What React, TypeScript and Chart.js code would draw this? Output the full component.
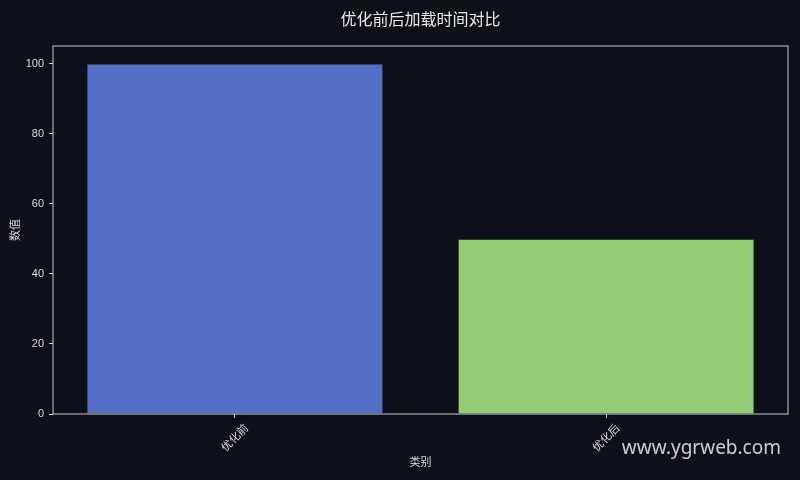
import { useEffect, useRef } from "react";
import { Chart, registerables } from "chart.js";

Chart.register(...registerables);

const categories = ["优化前", "优化后"];
const values = [100, 50];
const barColors = ["#5470c6", "#91cc75"];
const yTicks = [0, 20, 40, 60, 80, 100];

const BG = "#0d1017";
const TEXT = "#dcdcdc";
const SPINE = "#cccccc";
const FONT = "'Liberation Sans', 'Noto Sans CJK SC', sans-serif";

// frame, title and watermark
const decorPlugin = {
  id: "decor",
  beforeDraw(chart: Chart) {
    const { ctx, width, height } = chart;
    ctx.save();
    ctx.fillStyle = BG;
    ctx.fillRect(0, 0, width, height);
    ctx.restore();
  },
  afterDraw(chart: Chart) {
    const { ctx, chartArea } = chart;
    ctx.save();
    ctx.strokeStyle = SPINE;
    ctx.lineWidth = 1;
    ctx.strokeRect(chartArea.left, chartArea.top, chartArea.right - chartArea.left, chartArea.bottom - chartArea.top);

    ctx.fillStyle = "#e8e8e8";
    ctx.font = "16px 'Noto Sans CJK SC', sans-serif";
    ctx.textAlign = "center";
    ctx.textBaseline = "middle";
    ctx.fillText("优化前后加载时间对比", (chartArea.left + chartArea.right) / 2, 18.5);

    ctx.fillStyle = "rgba(225,225,225,0.9)";
    ctx.font = "19px 'Noto Sans', 'Open Sans', sans-serif";
    ctx.textAlign = "right";
    ctx.fillText("www.ygrweb.com", 781, 449);
    ctx.restore();
  },
};

export default function App() {
  const canvasRef = useRef<HTMLCanvasElement>(null);
  const chartRef = useRef<Chart | null>(null);

  useEffect(() => {
    document.body.style.margin = "0";
    if (!canvasRef.current) return;
    if (chartRef.current) chartRef.current.destroy();

    chartRef.current = new Chart(canvasRef.current, {
      type: "bar",
      data: {
        datasets: [
          {
            data: values.map((v, i) => ({ x: i, y: v })),
            backgroundColor: barColors,
            borderColor: "rgba(20,25,40,0.5)",
            borderWidth: 1,
            categoryPercentage: 1,
            barPercentage: 0.8,
          },
        ],
      },
      options: {
        animation: false,
        responsive: true,
        maintainAspectRatio: false,
        layout: { padding: { top: 46, right: 12, left: 0, bottom: 0 } },
        plugins: {
          legend: { display: false },
          title: { display: false },
          tooltip: { enabled: false },
        },
        scales: {
          x: {
            type: "linear",
            offset: false,
            min: -0.49,
            max: 1.49,
            afterBuildTicks: (s: any) => {
              s.ticks = categories.map((_, i) => ({ value: i }));
            },
            afterFit: (s: any) => {
              s.height = 66;
            },
            ticks: {
              callback: (v: any) => categories[v] ?? "",
              minRotation: 45,
              maxRotation: 45,
              labelOffset: 12,
              padding: 4,
              color: TEXT,
              font: { family: FONT, size: 11 },
            },
            grid: { display: true, offset: false, drawOnChartArea: false, drawTicks: true, tickLength: 4, color: SPINE },
            border: { display: false },
            title: {
              display: true,
              text: "类别",
              color: TEXT,
              font: { family: FONT, size: 11 },
              padding: { top: 0, bottom: 10 },
            },
          },
          y: {
            min: 0,
            max: 105,
            afterBuildTicks: (s: any) => {
              s.ticks = yTicks.map((v) => ({ value: v }));
            },
            afterFit: (s: any) => {
              s.width = 53;
            },
            ticks: {
              padding: 5,
              color: TEXT,
              font: { family: FONT, size: 11 },
            },
            grid: { display: true, drawOnChartArea: false, drawTicks: true, tickLength: 4, color: SPINE },
            border: { display: false },
            title: {
              display: true,
              text: "数值",
              color: TEXT,
              font: { family: FONT, size: 11 },
              padding: { top: 9, bottom: 0 },
            },
          },
        },
      },
      plugins: [decorPlugin],
    });

    return () => {
      chartRef.current?.destroy();
      chartRef.current = null;
    };
  }, []);

  return (
    <div style={{ width: 800, height: 480, position: "relative", background: BG }}>
      <canvas ref={canvasRef} />
    </div>
  );
}
